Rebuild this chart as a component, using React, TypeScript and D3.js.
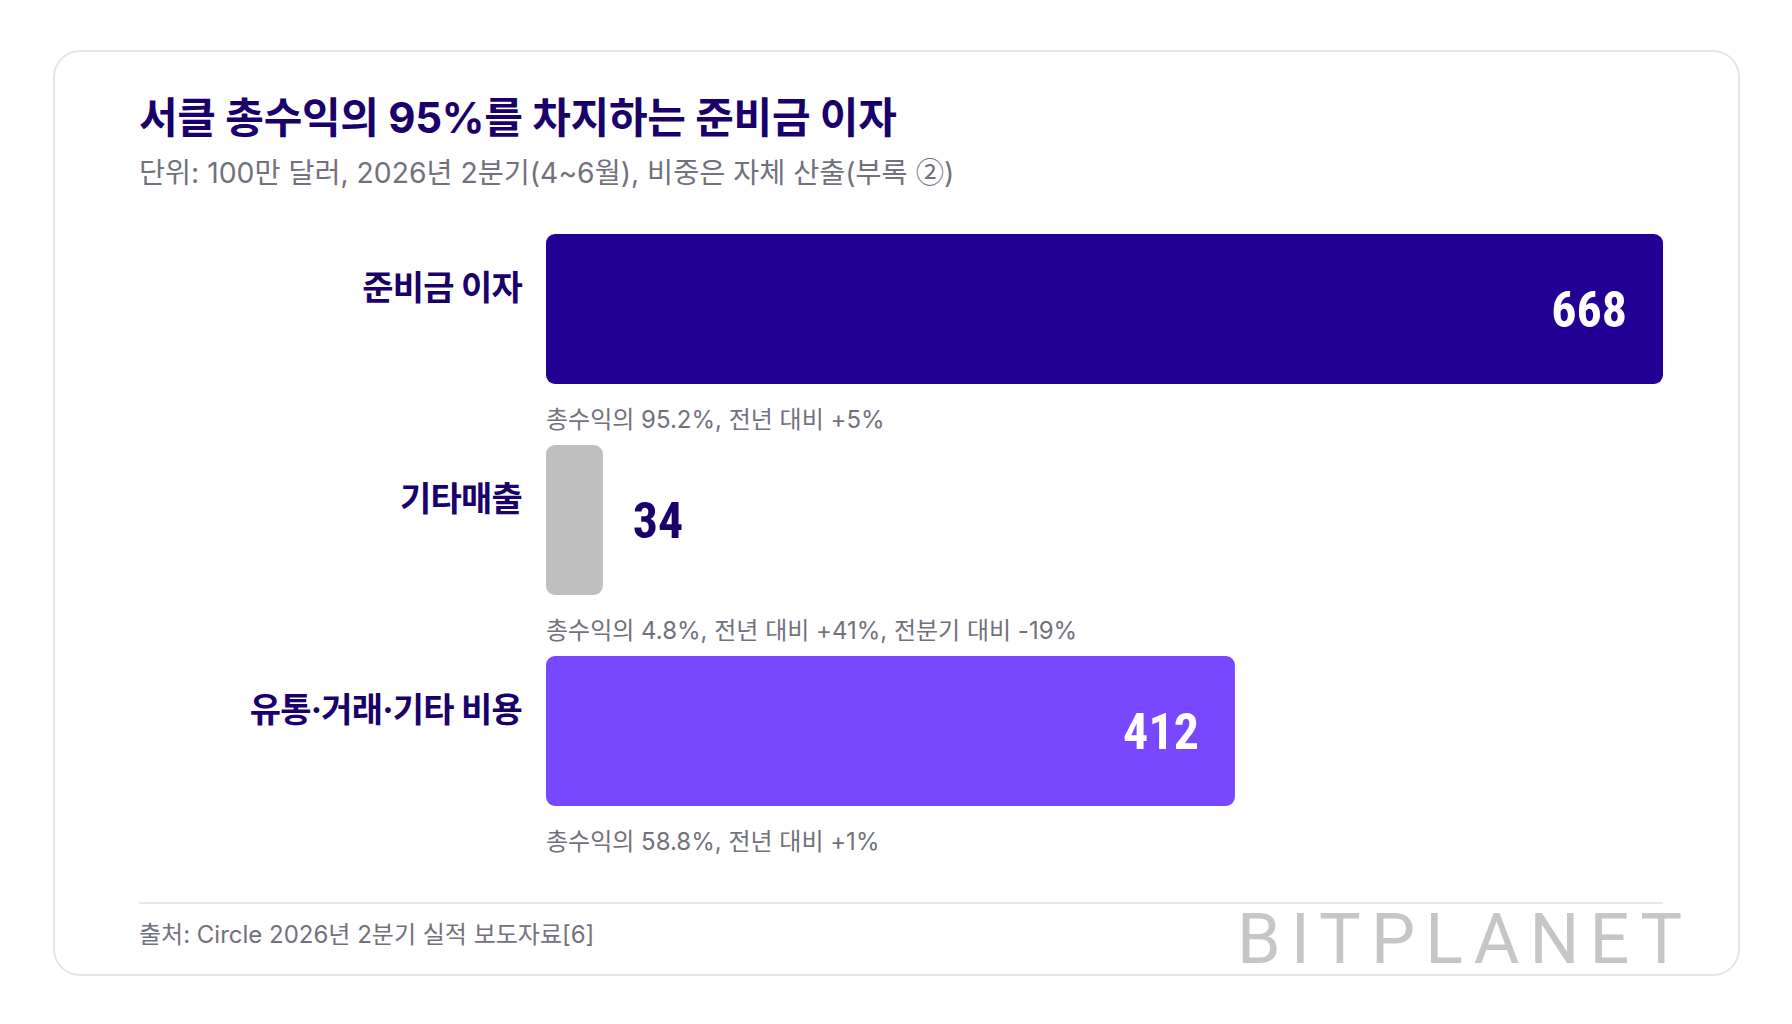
import * as d3 from "d3";
import React from "react";

// 데이터
const categories = ["준비금 이자", "기타매출", "유통·거래·기타 비용"];
const values = [668, 34, 412];
const notes = [
  "총수익의 95.2%, 전년 대비 +5%",
  "총수익의 4.8%, 전년 대비 +41%, 전분기 대비 -19%",
  "총수익의 58.8%, 전년 대비 +1%",
];
const barColors = ["#220094", "#bfbfbf", "#7748ff"];
const valueInside = [true, false, true];

const title = "서클 총수익의 95%를 차지하는 준비금 이자";
const subtitleA = "단위: 100만 달러, 2026년 2분기(4~6월), 비중은 자체 산출(부록 ";
const subtitleMark = "②";
const subtitleB = ")";
const source = "출처: Circle 2026년 2분기 실적 보도자료[6]";

const W = 1792;
const H = 1024;

const kr = "Inter, 'Noto Sans CJK KR', 'Noto Sans', sans-serif";
const cjk = "'Noto Sans CJK KR', sans-serif";
const num = "'Roboto Condensed', 'Liberation Sans Narrow', 'DejaVu Sans Condensed', Roboto, sans-serif";

const navy = "#1a006b";
const gray = "#72717c";

export default function App() {
  const x = d3.scaleLinear().domain([0, 668]).range([546, 1663]);
  const y = d3
    .scaleBand<string>()
    .domain(categories)
    .range([234, 806])
    .paddingInner(61 / 211)
    .paddingOuter(0);

  return (
    <svg
      width={W}
      height={H}
      viewBox={`0 0 ${W} ${H}`}
      style={{ position: "absolute", left: 0, top: 0, background: "#fff" }}
    >
      {/* 카드 */}
      <rect x={54} y={51} width={1685} height={924} rx={26} fill="#fff" stroke="#e5e4ee" strokeWidth={2} />

      {/* 제목 */}
      <text x={139} y={133} fontFamily={kr} fontWeight={700} fontSize={42} letterSpacing={-0.3} fill={navy}>
        {title}
      </text>
      <text x={139} y={183} fontFamily={kr} fontSize={28.3} fill={gray}>
        {subtitleA}
        <tspan fontFamily={cjk}>{subtitleMark}</tspan>
        {subtitleB}
      </text>

      {/* 막대 */}
      {categories.map((c, i) => {
        const top = y(c)!;
        const bw = y.bandwidth();
        const x1 = x(values[i]);
        return (
          <g key={c}>
            <rect x={x(0)} y={top} width={x1 - x(0)} height={bw} rx={9} fill={barColors[i]} />
            <text
              x={x(0) - 24}
              y={top + 66}
              textAnchor="end"
              fontFamily={kr}
              fontWeight={700}
              fontSize={34}
              letterSpacing={-0.8}
              fill={navy}
            >
              {c}
            </text>
            <text
              x={valueInside[i] ? x1 - 36 : x1 + 30}
              y={top + bw / 2 + 18}
              textAnchor={valueInside[i] ? "end" : "start"}
              fontFamily={num}
              fontWeight={700}
              fontSize={50}
              fill={valueInside[i] ? "#fff" : navy}
            >
              {values[i]}
            </text>
            <text x={x(0)} y={top + bw + 44} fontFamily={kr} fontSize={24} fill={gray}>
              {notes[i]}
            </text>
          </g>
        );
      })}

      {/* 하단 */}
      <line x1={139} x2={1663} y1={903} y2={903} stroke="#e8e7f0" strokeWidth={2} />
      <text x={139} y={943} fontFamily={kr} fontSize={24} fill={gray}>
        {source}
      </text>
      <text
        x={1237}
        y={963}
        fontFamily="Roboto, sans-serif"
        fontWeight={400}
        fontSize={70}
        textLength={445}
        lengthAdjust="spacing"
        fill="#c6c6c6"
      >
        BITPLANET
      </text>
    </svg>
  );
}
